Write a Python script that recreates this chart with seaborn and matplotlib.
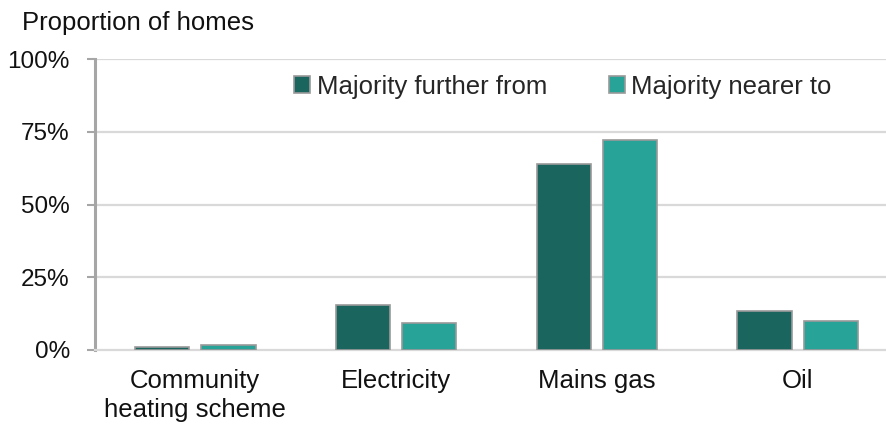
import matplotlib
matplotlib.use("Agg")
import matplotlib.pyplot as plt
import seaborn as sns
import pandas as pd

# Main heating fuel by location group
fuels = ["Community\nheating scheme", "Electricity", "Mains gas", "Oil"]
further_from = [1.1, 15.5, 63.9, 13.3]
nearer_to = [1.8, 9.3, 72.2, 10.0]
groups = ["Majority further from", "Majority nearer to"]
y_ticks = [0, 25, 50, 75, 100]
y_tick_labels = ["0%", "25%", "50%", "75%", "100%"]

df = pd.DataFrame({
    "fuel": fuels * 2,
    "share": further_from + nearer_to,
    "group": [groups[0]] * len(fuels) + [groups[1]] * len(fuels),
})

sns.set_theme(style="white")
plt.rcParams["font.family"] = ["Liberation Sans", "DejaVu Sans"]

FS = 18.5

fig = plt.figure(figsize=(8.86, 4.25), dpi=100)
ax = fig.add_axes([0.107, 0.1765, 0.893, 0.6845])

palette = {groups[0]: "#1B655F", groups[1]: "#27A397"}
sns.barplot(data=df, x="fuel", y="share", hue="group", order=fuels,
            hue_order=groups, palette=palette, width=0.66, gap=0.18,
            edgecolor="#9A9A9A", linewidth=1.2, saturation=1, ax=ax, zorder=3)

ax.set_ylim(0, 100)
ax.set_xlim(-0.5, 3.44)
ax.set_yticks(y_ticks)
ax.set_yticklabels(y_tick_labels, fontsize=17.5, color="#111111")
ax.tick_params(axis="x", labelsize=FS, colors="#111111", length=0, pad=14)
for lbl in ax.get_xticklabels():
    lbl.set_linespacing(1.22)
ax.tick_params(axis="y", left=True, length=6, width=1.5, color="#A6A6A6", pad=12)
ax.set_xlabel("")
ax.set_ylabel("")

for y in y_ticks[1:]:
    ax.axhline(y, color="#D9D9D9", linewidth=1.6, zorder=1)

for side in ["top", "right"]:
    ax.spines[side].set_visible(False)
ax.spines["bottom"].set_color("#D9D9D9")
ax.spines["bottom"].set_linewidth(1.6)
ax.spines["left"].set_color("#A6A6A6")
ax.spines["left"].set_linewidth(2.2)

leg = ax.legend(loc="center left", bbox_to_anchor=(0.252, 0.905), ncol=2,
                frameon=False, fontsize=FS, handlelength=0.62, handleheight=0.62,
                handletextpad=0.25, columnspacing=2.4, borderaxespad=0,
                borderpad=0)
for h in leg.legend_handles:
    h.set_edgecolor("#9A9A9A")

fig.text(0.025, 0.945, "Proportion of homes", fontsize=FS, color="#111111",
         ha="left", va="center")

fig.savefig("out.png", dpi=100)
